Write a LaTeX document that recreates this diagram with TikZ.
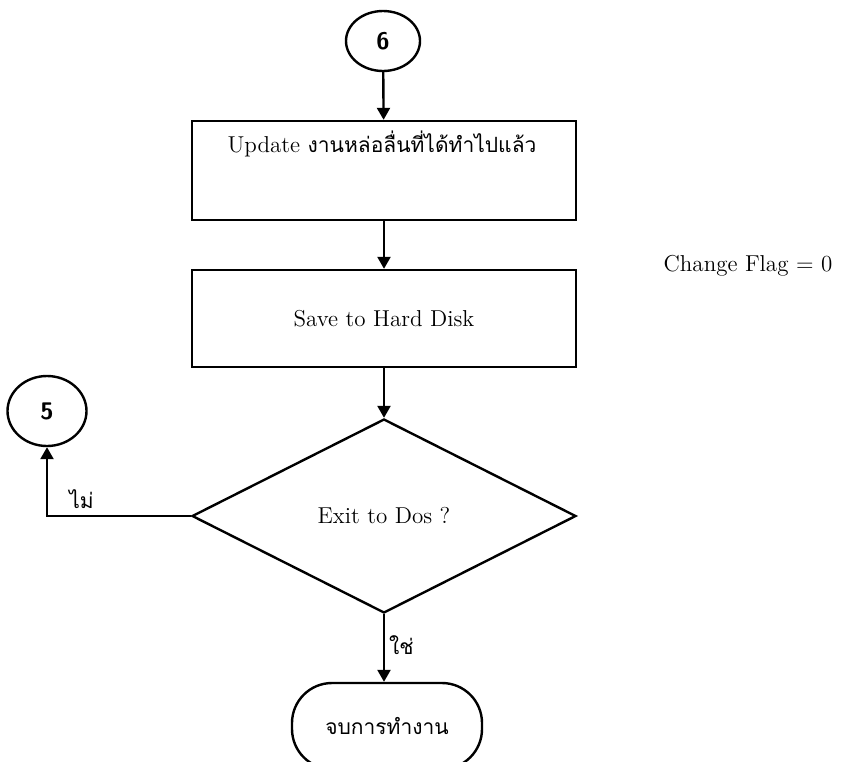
\documentclass[tikz,border=0pt]{standalone}
\usepackage{fontspec}
\newfontfamily\thaifont[Script=Thai]{Loma}
\usetikzlibrary{shapes.geometric,arrows.meta}

\tikzset{
    flowline/.style={line width=1.2pt},
    arrowline/.style={flowline,-{Triangle[length=6pt,width=6.5pt]}},
    txt/.style={font=\fontsize{11.5}{14}\selectfont},
    thaitxt/.style={font=\thaifont\fontsize{10.5}{13}\selectfont},
    procbox/.style={draw,line width=1.2pt,minimum width=192pt,inner sep=0pt},
    connector/.style={draw,ellipse,line width=1.2pt,inner sep=0pt,
        font=\sffamily\bfseries\fontsize{12}{14}\selectfont},
    decision/.style={draw,diamond,line width=1.2pt,aspect=2,inner sep=0pt,
        minimum width=192pt,minimum height=97pt,txt},
    terminal/.style={draw,rectangle,rounded corners=20pt,line width=1.2pt,
        minimum width=95pt,minimum height=43pt,inner sep=0pt}
}

\begin{document}
\begin{tikzpicture}[x=0.5pt,y=-0.5pt]

    \useasboundingbox (0,0) rectangle (844,761);

    % Connectors 6 and 5
    \node[connector,minimum width=37pt,minimum height=30pt] (c6) at (383,41) {6};
    \node[connector,minimum width=39.5pt,minimum height=35pt] (c5) at (47,411) {5};

    % Process boxes
    \node[procbox,minimum height=49.5pt] (update) at (384,170.5) {};
    \node[txt,anchor=base] (updtext) at (382,152)
        {Update {\thaifont\fontsize{10.5}{13}\selectfont งานหล่อลื่นที่ได้ทำไปแล้ว}};
    \node[procbox,minimum height=48.5pt,txt] (save) at (384,318.5) {Save to Hard Disk};
    \node[txt] (flag) at (748,266) {Change Flag = 0};

    % Decision and end
    \node[decision] (exit) at (384,516) {Exit to Dos ?};
    \node[terminal,thaitxt] (stop) at (387,726) {จบการทำงาน};

    % Flow
    \draw[arrowline] (c6) -- (update);
    \draw[arrowline] (update) -- (save);
    \draw[arrowline] (save) -- (exit);
    \draw[arrowline] (exit.west) -| node[pos=0.38,anchor=south,inner sep=3pt,thaitxt]
        {ไม่} (c5.south);
    \draw[arrowline] (exit.south) -- node[pos=0.45,right,inner sep=2pt,thaitxt]
        {ใช่} (stop.north -| exit.south);

\end{tikzpicture}
\end{document}
